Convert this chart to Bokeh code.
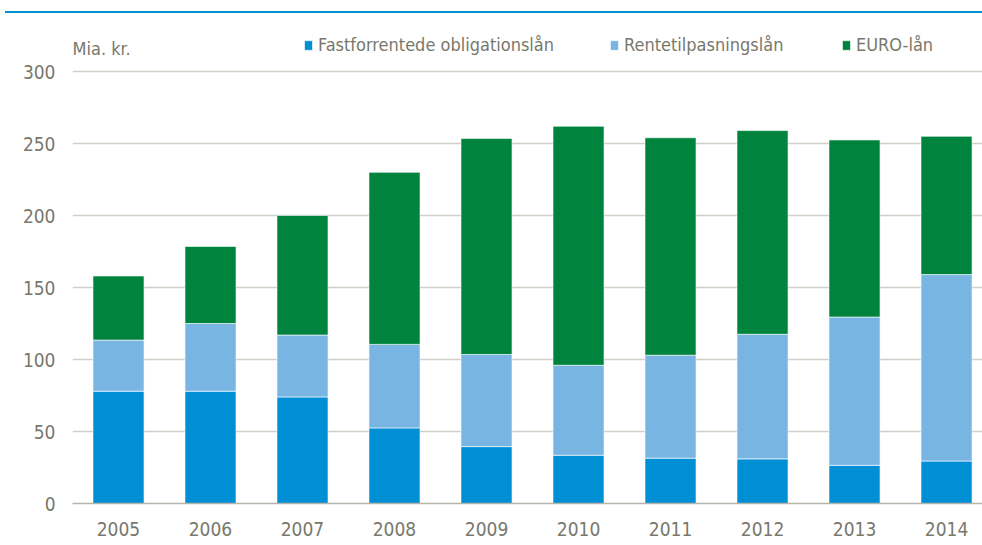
from bokeh.plotting import figure
from bokeh.layouts import column
from bokeh.models import (ColumnDataSource, Range1d, FixedTicker, Legend, LegendItem,
                          Label, Div)
from bokeh.embed import file_html
from bokeh.resources import INLINE

years = ["2005", "2006", "2007", "2008", "2009", "2010", "2011", "2012", "2013", "2014"]
fastforrentede = [78, 78, 74, 52.5, 39.5, 33.5, 31.5, 31, 26.5, 29.5]
rentetilpasning = [35.5, 47, 43, 58, 64, 62.5, 71.5, 86.5, 103, 129.5]
euro = [44.5, 53.5, 83, 119.5, 150, 166, 151, 141.5, 123, 96]
series_names = ["Fastforrentede obligationslån", "Rentetilpasningslån", "EURO-lån"]
colors = ["#008FD5", "#78B5E3", "#00843D"]
y_ticks = [0, 50, 100, 150, 200, 250, 300]

FONT = "'DejaVu Sans Condensed', 'Liberation Sans'"
TXT = "#78786C"

x = list(range(len(years)))
b1 = [0] * len(years)
t1 = fastforrentede
t2 = [a + b for a, b in zip(t1, rentetilpasning)]
t3 = [a + b for a, b in zip(t2, euro)]
src = ColumnDataSource(dict(x=x, b1=b1, t1=t1, t2=t2, t3=t3))

topline = Div(text="", width=977, height=2, margin=(11, 0, 0, 5),
              styles={"background-color": "#0091D0"})

p = figure(width=982, height=532, output_backend="svg", toolbar_location=None,
           x_range=Range1d(-0.5, 9.391), y_range=Range1d(0, 340.3),
           min_border_left=72, min_border_right=0, min_border_top=0, min_border_bottom=42)
p.outline_line_color = None
p.background_fill_color = "white"

r1 = p.vbar(x="x", bottom="b1", top="t1", width=0.555, source=src, fill_color=colors[0],
            line_color="white", line_alpha=0.6, line_width=1)
r2 = p.vbar(x="x", bottom="t1", top="t2", width=0.555, source=src, fill_color=colors[1],
            line_color="white", line_alpha=0.6, line_width=1)
r3 = p.vbar(x="x", bottom="t2", top="t3", width=0.555, source=src, fill_color=colors[2],
            line_color="white", line_alpha=0.6, line_width=1)

p.xaxis.ticker = FixedTicker(ticks=x)
p.xaxis.major_label_overrides = {i: y for i, y in enumerate(years)}
p.yaxis.ticker = FixedTicker(ticks=y_ticks)
for ax in (p.xaxis[0], p.yaxis[0]):
    ax.major_tick_line_color = None
    ax.minor_tick_line_color = None
    ax.major_label_text_font = FONT
    ax.major_label_text_font_size = "19px"
    ax.major_label_text_color = TXT
p.yaxis.axis_line_color = None
p.yaxis.major_label_standoff = 11
p.xaxis.axis_line_color = "#B4B4AA"
p.xaxis.axis_line_width = 1.5
p.xaxis.major_label_standoff = 12

p.xgrid.grid_line_color = None
p.ygrid.grid_line_color = "#CFCFC8"
p.ygrid.grid_line_width = 1.5
p.ygrid.level = "underlay"

legend_x = [231, 537, 769]
for name, rend, lx in zip(series_names, [r1, r2, r3], legend_x):
    lg = Legend(items=[LegendItem(label=name, renderers=[rend])],
                orientation="horizontal", location=(lx, 448),
                glyph_width=10, glyph_height=12, label_standoff=5,
                padding=0, margin=0, border_line_color=None, background_fill_alpha=0,
                label_text_font=FONT, label_text_font_size="18px", label_text_color=TXT)
    p.add_layout(lg, "center")

p.add_layout(Label(x=-0.5, y=316.2, text="Mia. kr.",
                   text_font=FONT, text_font_size="18px", text_color=TXT,
                   text_baseline="middle", text_align="left"))

layout = column(topline, p, spacing=0)
open("out.html", "w").write(file_html(layout, INLINE))
